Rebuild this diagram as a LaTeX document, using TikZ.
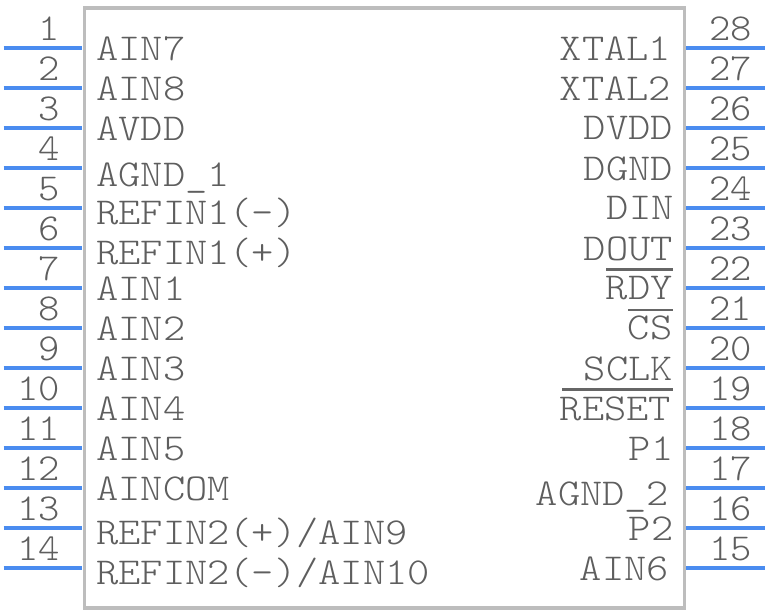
\documentclass[tikz,border=0pt]{standalone}
\usepackage{fontspec}
\newfontfamily\labelfont[FakeStretch=1.115]{Latin Modern Mono Light}
\newfontfamily\numfont[FakeStretch=1.07]{Latin Modern Mono Light}
\definecolor{pincol}{HTML}{4A8CF0}
\definecolor{boxcol}{HTML}{BDBDBD}
\definecolor{txtcol}{HTML}{5E5E5E}
\definecolor{barcol}{HTML}{666666}
\tikzset{
  x=0.75pt,y=-0.75pt,
  pinline/.style={draw=pincol,line width=3pt},
  bodybox/.style={draw=boxcol,line width=2.5pt},
  siglabel/.style={inner sep=0pt,anchor=base west,text=txtcol,font=\fontsize{28.5}{30}\selectfont\labelfont},
  numleft/.style={inner sep=0pt,anchor=base east,text=txtcol,font=\fontsize{28.5}{30}\selectfont\numfont},
  numright/.style={inner sep=0pt,anchor=base west,text=txtcol,font=\fontsize{28.5}{30}\selectfont\numfont},
  barline/.style={draw=barcol,line width=1.6pt},
}
\begin{document}
\begin{tikzpicture}
\useasboundingbox (0,0) rectangle (768,612);
\draw[bodybox] (84.2,8) rectangle (684.3,608);
% pins
\foreach \n [count=\i from 0] in {1,...,14}{
  \pgfmathsetmacro{\yy}{48+40*\i}
  \coordinate (la\n) at (3.5,\yy);
  \coordinate (lb\n) at (82,\yy);
  \draw[pinline] (la\n) -- (lb\n);
  \node[numleft] (ln\n) at (60,\yy-8) {\n};
}
\foreach \n [count=\i from 0] in {28,27,...,15}{
  \pgfmathsetmacro{\yy}{48+40*\i}
  \coordinate (ra\n) at (686,\yy);
  \coordinate (rb\n) at (765,\yy);
  \draw[pinline] (ra\n) -- (rb\n);
  \node[numright] (rn\n) at (709,\yy-8) {\n};
}
% left labels
\node[siglabel] (L1) at (96,60.5) {AIN7};
\node[siglabel] (L2) at (96,100.5) {AIN8};
\node[siglabel] (L3) at (96,140.5) {AVDD};
\node[siglabel] (L4) at (96,186.5) {AGND\_1};
\node[siglabel] (L5) at (96,224.5) {REFIN1(-)};
\node[siglabel] (L6) at (96,264.5) {REFIN1(+)};
\node[siglabel] (L7) at (96,300.5) {AIN1};
\node[siglabel] (L8) at (96,340.5) {AIN2};
\node[siglabel] (L9) at (96,380.5) {AIN3};
\node[siglabel] (L10) at (96,420.5) {AIN4};
\node[siglabel] (L11) at (96,460.5) {AIN5};
\node[siglabel] (L12) at (96,500.5) {AINCOM};
\node[siglabel] (L13) at (96,544.5) {REFIN2(+)/AIN9};
\node[siglabel] (L14) at (96,584.5) {REFIN2(-)/AIN10};
% right labels
\node[siglabel] (R28) at (559.5,60.5) {XTAL1};
\node[siglabel] (R27) at (559.5,100.5) {XTAL2};
\node[siglabel] (R26) at (583.5,139.5) {DVDD};
\node[siglabel] (R25) at (583.5,180.5) {DGND};
\node[siglabel] (R24) at (606.5,219.5) {DIN};
\node[siglabel] (R23) at (583.5,260.5) {DOUT};
\node[siglabel] (R22) at (605.5,299.5) {RDY};
\node[siglabel] (R21) at (627.5,339.5) {CS};
\node[siglabel] (R20) at (583.5,380.5) {SCLK};
\node[siglabel] (R19) at (559.5,420.5) {RESET};
\node[siglabel] (R18) at (628.5,460.5) {P1};
\node[siglabel] (R17) at (535.5,505.5) {AGND\_2};
\node[siglabel] (R16) at (628.5,540.5) {P2};
\node[siglabel] (R15) at (579.5,580.5) {AIN6};
% overbars
\draw[barline] (606,269.5) -- (673,269.5);
\draw[barline] (628,310) -- (673,310);
\draw[barline] (562,389.5) -- (673,389.5);
\end{tikzpicture}
\end{document}
